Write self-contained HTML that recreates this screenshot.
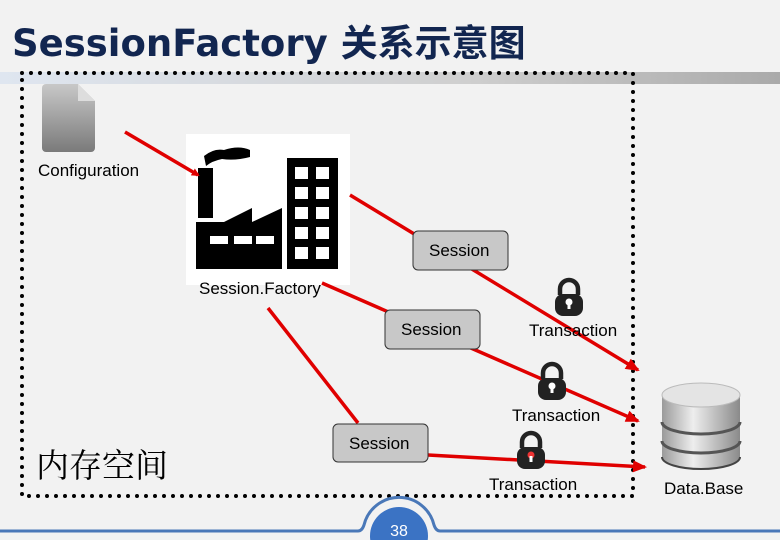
<!DOCTYPE html>
<html><head><meta charset="utf-8"><style>
body{margin:0;width:780px;height:540px;background:#f2f2f2;overflow:hidden;position:relative;font-family:"Liberation Sans",sans-serif}
.t{position:absolute;white-space:nowrap}
</style></head><body>
<div class="t" style="left:12px;top:13px;font-size:37px;font-weight:bold;color:#122650;font-family:'DejaVu Sans','Noto Sans CJK SC',sans-serif">SessionFactory 关系示意图</div>
<div style="position:absolute;left:0;top:72px;width:780px;height:12px;background:linear-gradient(90deg,#dfe6f0,#cfcfcf 60%,#aaa)"></div>
<svg width="780" height="540" style="position:absolute;left:0;top:0">
<defs>
<marker id="a" markerWidth="8" markerHeight="8" refX="6" refY="4" orient="auto" markerUnits="userSpaceOnUse" viewBox="0 0 8 8"><path d="M0,0L8,4L0,8z" fill="#e00000"/></marker>
<marker id="b" markerWidth="14" markerHeight="12" refX="12" refY="6" orient="auto" markerUnits="userSpaceOnUse"><path d="M0,0L14,6L0,12z" fill="#e00000"/></marker>
<linearGradient id="g" x1="0" y1="0" x2="0" y2="1"><stop offset="0" stop-color="#c8c8c8"/><stop offset="1" stop-color="#7a7a7a"/></linearGradient>
<linearGradient id="d" x1="0" y1="0" x2="1" y2="0"><stop offset="0" stop-color="#9a9a9a"/><stop offset=".4" stop-color="#eee"/><stop offset="1" stop-color="#8a8a8a"/></linearGradient>
</defs>
<rect x="22" y="73" width="611" height="423" fill="none" stroke="#000" stroke-width="4" stroke-dasharray="0 9" stroke-linecap="round"/>
<path d="M42,88 a4,4 0 0 1 4,-4 h32 l17,17 v47 a4,4 0 0 1 -4,4 h-45 a4,4 0 0 1 -4,-4z" fill="url(#g)"/>
<path d="M78,84 v17 h17z" fill="#ddd"/>
<rect x="186" y="134" width="164" height="151" fill="#fff"/>
<path d="M204,156 q10,-8 20,-6 q15,-5 26,0 l0,7 q-15,4 -28,2 q-10,2 -16,7z" fill="#000"/>
<rect x="198" y="168" width="15" height="50" fill="#000"/>
<path d="M196,222 L224,222 L252,208 L252,222 L282,208 L282,269 L196,269z" fill="#000"/>
<rect x="210" y="236" width="18" height="8" fill="#fff"/><rect x="234" y="236" width="18" height="8" fill="#fff"/><rect x="256" y="236" width="18" height="8" fill="#fff"/>
<rect x="287" y="158" width="51" height="111" fill="#000"/>
<g fill="#fff"><rect x="295" y="167" width="13" height="12"/><rect x="316" y="167" width="13" height="12"/><rect x="295" y="187" width="13" height="12"/><rect x="316" y="187" width="13" height="12"/><rect x="295" y="207" width="13" height="12"/><rect x="316" y="207" width="13" height="12"/><rect x="295" y="227" width="13" height="12"/><rect x="316" y="227" width="13" height="12"/><rect x="295" y="247" width="13" height="12"/><rect x="316" y="247" width="13" height="12"/></g>
<g stroke="#e00000" stroke-width="3.5" fill="none">
<line x1="125" y1="132" x2="198" y2="175" marker-end="url(#a)"/>
<line x1="350" y1="195" x2="638" y2="370" marker-end="url(#b)"/>
<line x1="322" y1="283" x2="638" y2="421" marker-end="url(#b)"/>
<line x1="268" y1="308" x2="358" y2="423"/>
<line x1="428" y1="455" x2="645" y2="467" marker-end="url(#b)"/>
</g>
<g fill="#c8c8c8" stroke="#333" stroke-width="1">
<rect x="413" y="231" width="95" height="39" rx="5"/>
<rect x="385" y="310" width="95" height="39" rx="5"/>
<rect x="333" y="424" width="95" height="38" rx="5"/>
</g>
<g transform="translate(569,298)"><path d="M-9,-3 v-6 a9,9 0 0 1 18,0 v6" fill="none" stroke="#222" stroke-width="4.5"/><rect x="-14" y="-4" width="28" height="22" rx="8" fill="#222"/><circle cx="0" cy="4" r="3.5" fill="#fff"/><rect x="-1.5" y="5" width="3" height="6" fill="#fff"/></g>
<g transform="translate(552,382)"><path d="M-9,-3 v-6 a9,9 0 0 1 18,0 v6" fill="none" stroke="#222" stroke-width="4.5"/><rect x="-14" y="-4" width="28" height="22" rx="8" fill="#222"/><circle cx="0" cy="4" r="3.5" fill="#fff"/><rect x="-1.5" y="5" width="3" height="6" fill="#fff"/></g>
<g transform="translate(531,451)"><path d="M-9,-3 v-6 a9,9 0 0 1 18,0 v6" fill="none" stroke="#222" stroke-width="4.5"/><rect x="-14" y="-4" width="28" height="22" rx="8" fill="#222"/><circle cx="0" cy="4" r="3.5" fill="#e33"/><rect x="-1.5" y="5" width="3" height="6" fill="#fff"/></g>
<path d="M662,395 v62 a39,12 0 0 0 78,0 v-62z" fill="url(#d)"/>
<ellipse cx="701" cy="395" rx="39" ry="12" fill="#e4e4e4" stroke="#bbb"/>
<path d="M662,422 a39,12 0 0 0 78,0" fill="none" stroke="#555" stroke-width="3"/>
<path d="M662,441 a39,12 0 0 0 78,0" fill="none" stroke="#555" stroke-width="3"/>
<path d="M662,457 a39,12 0 0 0 78,0" fill="none" stroke="#444" stroke-width="2"/>
<path d="M0,531 H358 q4,0 6,-6 a36,36 0 0 1 70,0 q2,6 6,6 H780" fill="none" stroke="#4a78b8" stroke-width="3"/>
<circle cx="399" cy="536" r="29" fill="#3b73c4"/>
<text x="399" y="536" fill="#fff" font-size="16" text-anchor="middle" font-family="Liberation Sans">38</text>
</svg>
<div class="t" style="left:38px;top:161px;font-size:17px">Configuration</div>
<div class="t" style="left:199px;top:279px;font-size:17px">Session.Factory</div>
<div class="t" style="left:429px;top:241px;font-size:17px">Session</div>
<div class="t" style="left:401px;top:320px;font-size:17px">Session</div>
<div class="t" style="left:349px;top:434px;font-size:17px">Session</div>
<div class="t" style="left:529px;top:321px;font-size:17px">Transaction</div>
<div class="t" style="left:512px;top:406px;font-size:17px">Transaction</div>
<div class="t" style="left:489px;top:475px;font-size:17px">Transaction</div>
<div class="t" style="left:664px;top:479px;font-size:17px">Data.Base</div>
<div class="t" style="left:36px;top:440px;font-size:33px;font-family:'Noto Serif CJK SC',serif">内存空间</div>
</body></html>
